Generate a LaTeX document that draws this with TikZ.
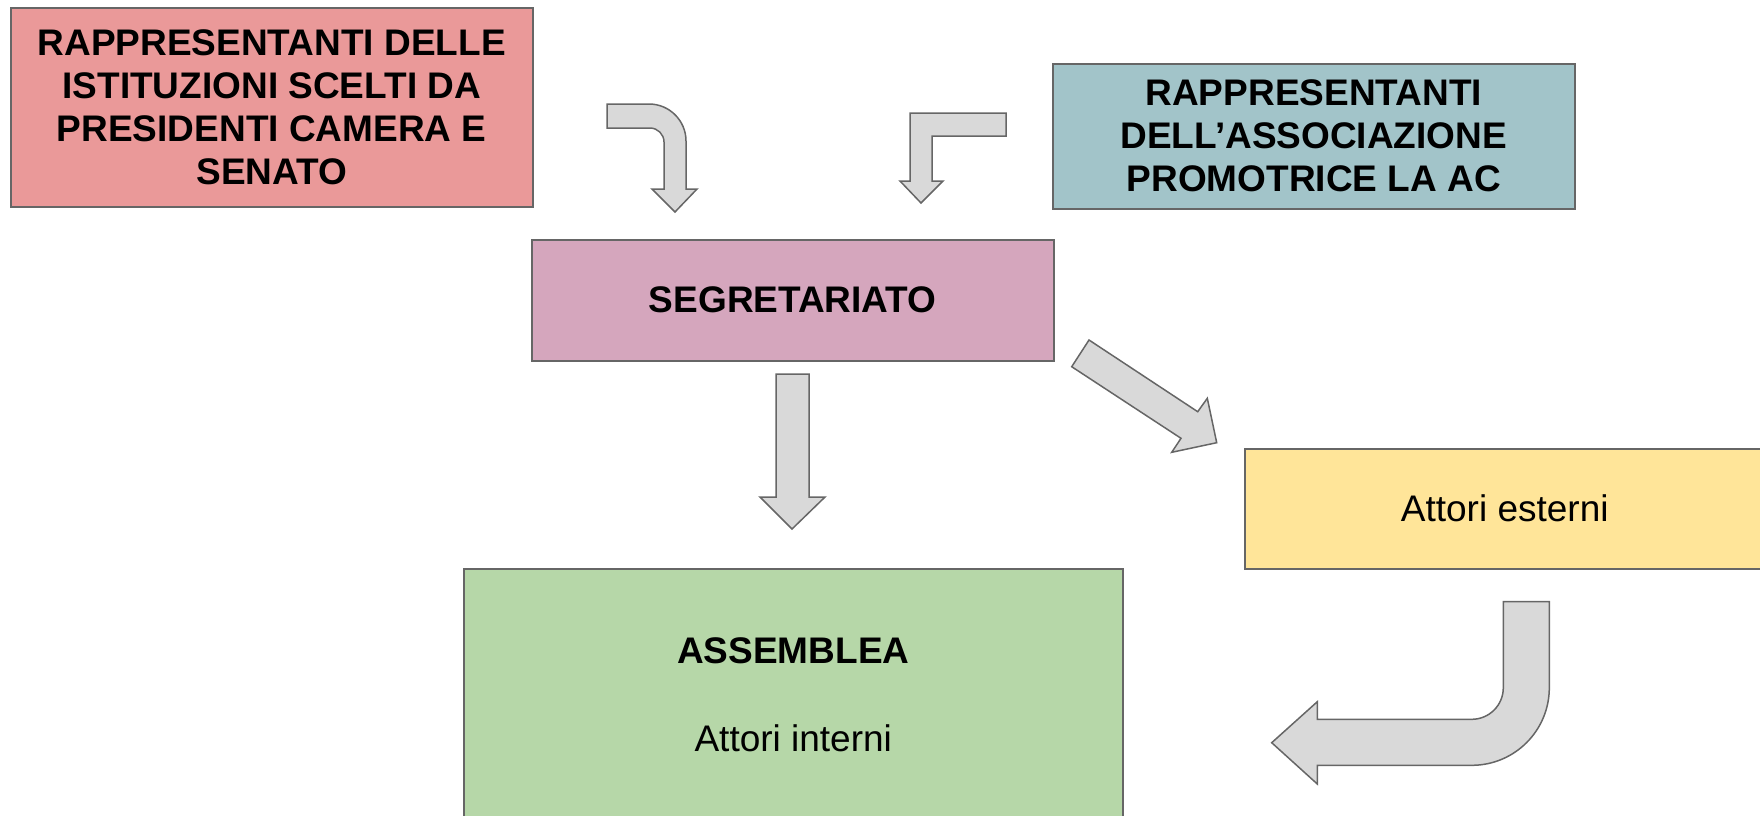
\documentclass[tikz,border=0pt]{standalone}
\usepackage{fontspec}
\setmainfont{Liberation Sans}
\definecolor{pinkc}{HTML}{EA9999}
\definecolor{bluec}{HTML}{A2C4C9}
\definecolor{purplec}{HTML}{D5A6BD}
\definecolor{yellowc}{HTML}{FFE599}
\definecolor{greenc}{HTML}{B6D7A8}
\definecolor{arrowfill}{HTML}{D9D9D9}
\definecolor{edgec}{HTML}{666666}
\begin{document}
\begin{tikzpicture}[x=1pt,y=-1pt,
  box/.style={draw=edgec, line width=1.5pt, rectangle, anchor=north west, inner sep=0pt, align=center, text=black,
    font=\fontsize{37}{43}\selectfont},
  blockarrow/.style={draw=edgec, fill=arrowfill, line width=1.5pt, line join=miter}]
\useasboundingbox (0,0) rectangle (1760,815);
\clip (0,0) rectangle (1760,815);
% boxes
\node[box, fill=pinkc, minimum width=522pt, minimum height=199pt] (ist) at (10,7)
  {\bfseries RAPPRESENTANTI DELLE\\\bfseries ISTITUZIONI SCELTI DA\\\bfseries PRESIDENTI CAMERA E\\\bfseries SENATO};
\node[box, fill=bluec, minimum width=522pt, minimum height=145pt] (ass) at (1052,63)
  {\bfseries RAPPRESENTANTI\\\bfseries DELL’ASSOCIAZIONE\\\bfseries PROMOTRICE LA AC};
\node[box, fill=purplec, minimum width=522pt, minimum height=121pt] (seg) at (531,239)
  {\bfseries SEGRETARIATO};
\node[box, fill=yellowc, minimum width=520pt, minimum height=120pt] (est) at (1244,448)
  {Attori esterni};
\node[box, fill=greenc, minimum width=659pt, minimum height=252pt] (asm) at (463,568)
  {\bfseries ASSEMBLEA\\[45pt]Attori interni};
% block arrows
\draw[blockarrow] (607,104) -- (649,104)
  .. controls (669.4,104) and (686,120.6) .. (686,141)
  -- (686,189) -- (697,189) -- (675,212) -- (652,189) -- (664,189) -- (664,142)
  .. controls (664,134.3) and (657.7,128) .. (650,128) -- (607,128) -- cycle;
\draw[blockarrow] (1006,113) -- (910,113) -- (910,181) -- (900,181) -- (921,203)
  -- (943,181) -- (932,181) -- (932,136) -- (1006,136) -- cycle;
\draw[blockarrow] (776,374) -- (809,374) -- (809,497) -- (825,497) -- (792,529)
  -- (760,497) -- (776,497) -- cycle;
\draw[blockarrow] (1089,340) -- (1197.7,411.7) -- (1207.3,398.3) -- (1216.7,442.7)
  -- (1171.7,452.3) -- (1181,438.3) -- (1071.7,366.7) -- cycle;
\draw[blockarrow] (1503.3,601.7) -- (1549.3,601.7) -- (1549.3,687.7)
  .. controls (1549.3,730.6) and (1514.6,765.3) .. (1471.7,765.3)
  -- (1317.3,765.3) -- (1317.3,784) -- (1271.7,742.7) -- (1317.3,701.7) -- (1317.3,719.3)
  -- (1471.7,719.3) .. controls (1489.2,719.3) and (1503.3,705.2) .. (1503.3,687.7) -- cycle;
\end{tikzpicture}
\end{document}
